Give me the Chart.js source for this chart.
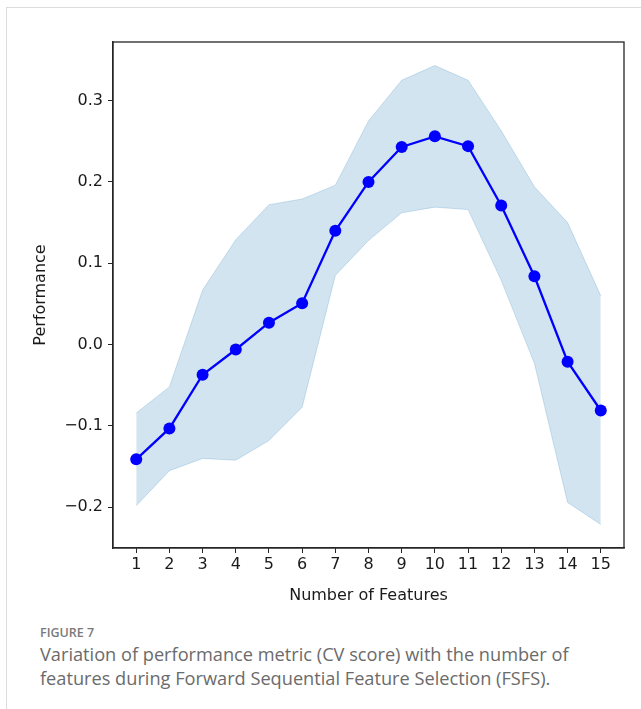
<!DOCTYPE html>
<html>
<head>
<meta charset="utf-8">
<script src="https://cdn.jsdelivr.net/npm/chart.js@4"></script>
<style>
  body { margin: 0; background: #fff; width: 641px; height: 709px; position: relative; overflow: hidden; }
  .frame { position: absolute; left: 6px; top: 7px; width: 650px; height: 720px; border-left: 1px solid #ddd; border-top: 1px solid #ddd; }
  #wrap { position: absolute; left: 0; top: 0; width: 641px; height: 620px; }
  .figlabel { position: absolute; left: 40px; top: 624px; font: 600 12.5px "Open Sans", sans-serif; color: #7a7a7a; }
  .caption { position: absolute; left: 40px; top: 642px; width: 560px; font: 18.2px "Open Sans", sans-serif; line-height: 24px; color: #6b6b6b; }
</style>
</head>
<body>
<div class="frame"></div>
<div id="wrap"><canvas id="chart"></canvas></div>
<div class="figlabel">FIGURE 7</div>
<div class="caption">Variation of performance metric (CV score) with the number of features during Forward Sequential Feature Selection (FSFS).</div>
<script>
// number of features selected
const features = [1, 2, 3, 4, 5, 6, 7, 8, 9, 10, 11, 12, 13, 14, 15];
// mean CV score
const meanScore = [-0.141, -0.103, -0.037, -0.006, 0.027, 0.051, 0.140, 0.200, 0.243, 0.256, 0.244, 0.171, 0.084, -0.021, -0.081];
// upper / lower band (mean +/- std)
const upperBand = [-0.084, -0.052, 0.067, 0.129, 0.172, 0.179, 0.196, 0.275, 0.325, 0.343, 0.325, 0.263, 0.194, 0.150, 0.060];
const lowerBand = [-0.198, -0.155, -0.140, -0.142, -0.118, -0.077, 0.085, 0.128, 0.162, 0.169, 0.166, 0.079, -0.023, -0.194, -0.221];
const xTicks = features;
const yTicks = [-0.2, -0.1, 0.0, 0.1, 0.2, 0.3];

const pts = arr => arr.map((v, i) => ({ x: features[i], y: v }));

const frame = {
  id: 'frame',
  afterDraw(chart) {
    const { ctx, chartArea: a } = chart;
    ctx.save();
    ctx.strokeStyle = '#262626';
    ctx.lineWidth = 1.3;
    ctx.strokeRect(a.left, a.top, a.right - a.left, a.bottom - a.top);
    ctx.restore();
  }
};

const tickFont = { family: 'DejaVu Sans', size: 16 };

new Chart(document.getElementById('chart').getContext('2d'), {
  type: 'line',
  data: {
    datasets: [
      {
        data: pts(upperBand),
        borderColor: 'rgba(31,119,180,0.2)',
        borderWidth: 1,
        pointRadius: 0,
        fill: false,
        order: 3
      },
      {
        data: pts(lowerBand),
        borderColor: 'rgba(31,119,180,0.2)',
        borderWidth: 1,
        backgroundColor: 'rgba(31,119,180,0.2)',
        pointRadius: 0,
        fill: '-1',
        order: 2
      },
      {
        data: pts(meanScore),
        borderColor: '#0000ff',
        backgroundColor: '#0000ff',
        borderWidth: 2.3,
        pointRadius: 6,
        pointBorderWidth: 0,
        fill: false,
        order: 1
      }
    ]
  },
  options: {
    responsive: true,
    maintainAspectRatio: false,
    animation: false,
    layout: { padding: { top: 42, right: 17, left: 27, bottom: 0 } },
    plugins: { legend: { display: false }, tooltip: { enabled: false } },
    scales: {
      x: {
        type: 'linear',
        min: 0.3,
        max: 15.7,
        afterBuildTicks: s => { s.ticks = xTicks.map(v => ({ value: v })); },
        afterFit: s => { s.height = 72; },
        grid: { drawOnChartArea: false, tickLength: 5, tickColor: '#262626', tickWidth: 1 },
        border: { color: '#262626', width: 1.3 },
        ticks: { color: '#1a1a1a', font: tickFont, padding: 2, maxRotation: 0, autoSkip: false },
        title: { display: true, text: 'Number of Features', color: '#1a1a1a', font: { family: 'DejaVu Sans', size: 16 }, padding: { top: 0, bottom: 15 } }
      },
      y: {
        min: -0.25,
        max: 0.372,
        afterBuildTicks: s => { s.ticks = yTicks.map(v => ({ value: v })); },
        afterFit: s => { s.width = 86; },
        grid: { drawOnChartArea: false, tickLength: 5, tickColor: '#262626', tickWidth: 1 },
        border: { color: '#262626', width: 1.3 },
        ticks: {
          color: '#1a1a1a', font: tickFont, padding: 5,
          callback: v => v.toFixed(1).replace('-', '\u2212')
        },
        title: { display: true, text: 'Performance', color: '#1a1a1a', font: { family: 'DejaVu Sans', size: 16 }, padding: { bottom: 0 } }
      }
    }
  },
  plugins: [frame]
});
</script>
</body>
</html>
